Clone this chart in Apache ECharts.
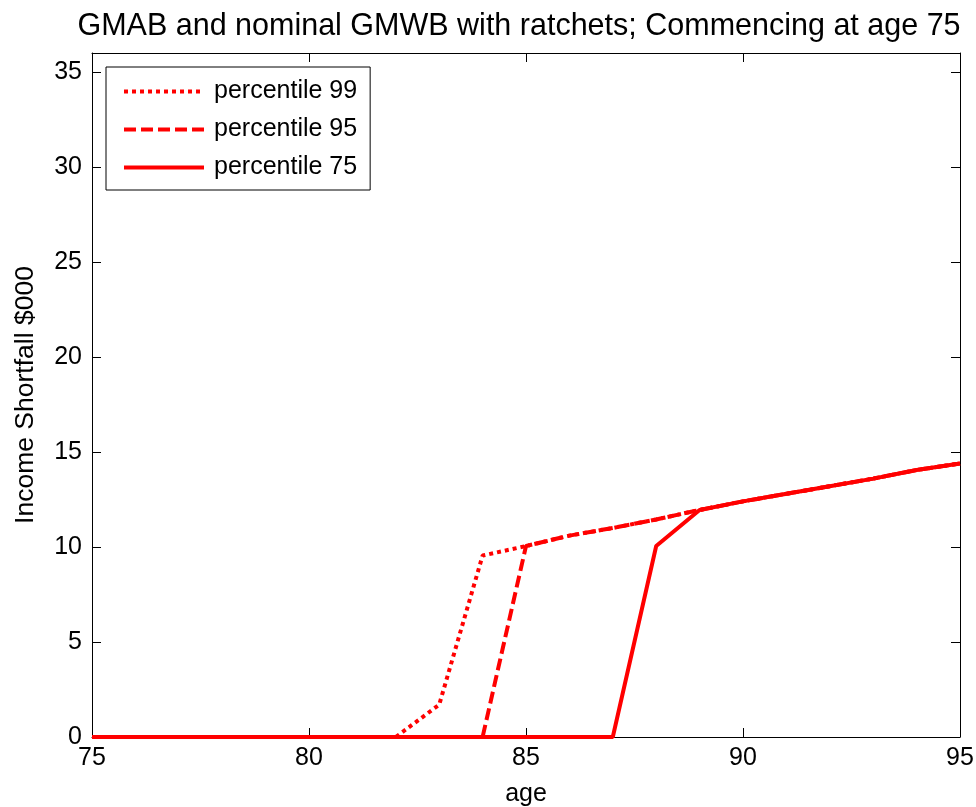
<!DOCTYPE html>
<html>
<head>
<meta charset="utf-8">
<script src="https://cdn.jsdelivr.net/npm/echarts@6/dist/echarts.min.js"></script>
<style>html,body{margin:0;padding:0;background:#fff;}#c{width:976px;height:807px;}</style>
</head>
<body>
<div id="c"></div>
<script>
var ages = [75,76,77,78,79,80,81,82,83,84,85,86,87,88,89,90,91,92,93,94,95];
var p99 = [0,0,0,0,0,0,0,0,1.7,9.55,10.05,10.6,11.0,11.45,11.95,12.4,12.8,13.2,13.6,14.05,14.4];
var p95 = [0,0,0,0,0,0,0,0,0,0,10.05,10.6,11.0,11.45,11.95,12.4,12.8,13.2,13.6,14.05,14.4];
var p75 = [0,0,0,0,0,0,0,0,0,0,0,0,0,10.05,11.95,12.4,12.8,13.2,13.6,14.05,14.4];
var xTicks = [75,80,85,90,95];
var yTicks = [0,5,10,15,20,25,30,35];
var names = ['percentile 99','percentile 95','percentile 75'];

function pairs(arr){ return ages.map(function(a,i){ return [a, arr[i]]; }); }
var font = 'Liberation Sans, Arial, sans-serif';
var chart = echarts.init(document.getElementById('c'));
var lineBase = {type:'line', symbol:'none', smooth:false, z:3, clip:false};
var fs = 25;
chart.setOption({
  animation:false,
  title:{text:'GMAB and nominal GMWB with ratchets; Commencing at age 75', left:514, top:6, textAlign:'center',
    textStyle:{fontFamily:font, fontSize:30.5, fontWeight:'normal', color:'#000'}},
  grid:{left:92, right:16, top:53, bottom:70, show:false, outerBoundsMode:'none', containLabel:false},
  legend:{orient:'vertical', left:106, top:67, padding:[12,13,10,16], itemGap:13, itemWidth:80, itemHeight:25,
    borderColor:'#000', borderWidth:1, backgroundColor:'#fff',
    itemStyle:{opacity:0},
    lineStyle:{width:4},
    textStyle:{fontFamily:font, fontSize:fs, color:'#000', padding:[0,0,0,5]},
    data:names},
  xAxis:[{type:'value', min:75, max:95, interval:5, position:'bottom',
    name:'age', nameLocation:'middle', nameGap:45, nameTextStyle:{fontFamily:font, fontSize:fs, color:'#000'},
    axisLine:{show:true, onZero:false, lineStyle:{color:'#000', width:1}},
    axisTick:{show:true, inside:true, length:9, lineStyle:{color:'#000'}},
    axisLabel:{fontFamily:font, fontSize:fs, color:'#000', margin:9,
      formatter:function(v){ return xTicks.indexOf(v)>=0 ? String(v) : ''; }},
    splitLine:{show:false}},
   {type:'value', min:75, max:95, interval:5, position:'top',
    axisLine:{show:true, onZero:false, lineStyle:{color:'#000', width:1}},
    axisTick:{show:true, inside:true, length:9, lineStyle:{color:'#000'}},
    axisLabel:{show:false}, splitLine:{show:false}}],
  yAxis:[{type:'value', min:0, max:36, interval:5, position:'left',
    name:'Income Shortfall $000', nameLocation:'middle', nameGap:53, nameRotate:90,
    nameTextStyle:{fontFamily:font, fontSize:26.5, color:'#000'},
    axisLine:{show:true, onZero:false, lineStyle:{color:'#000', width:1}},
    axisTick:{show:true, inside:true, length:9, lineStyle:{color:'#000'}},
    axisLabel:{fontFamily:font, fontSize:fs, color:'#000', margin:10, showMaxLabel:false,
      formatter:function(v){ return yTicks.indexOf(v)>=0 ? String(v) : ''; }},
    splitLine:{show:false}},
   {type:'value', min:0, max:36, interval:5, position:'right',
    axisLine:{show:true, onZero:false, lineStyle:{color:'#000', width:1}},
    axisTick:{show:true, inside:true, length:9, lineStyle:{color:'#000'}},
    axisLabel:{show:false}, splitLine:{show:false}}],
  series:[
    Object.assign({}, lineBase, {name:names[0], data:pairs(p99), lineStyle:{color:'#ff0000', width:4, type:[4,4]}, itemStyle:{color:'#ff0000'}}),
    Object.assign({}, lineBase, {name:names[1], data:pairs(p95), lineStyle:{color:'#ff0000', width:4, type:[12,5]}, itemStyle:{color:'#ff0000'}}),
    Object.assign({}, lineBase, {name:names[2], data:pairs(p75), lineStyle:{color:'#ff0000', width:4, type:'solid'}, itemStyle:{color:'#ff0000'}})
  ]
});
</script>
</body>
</html>
